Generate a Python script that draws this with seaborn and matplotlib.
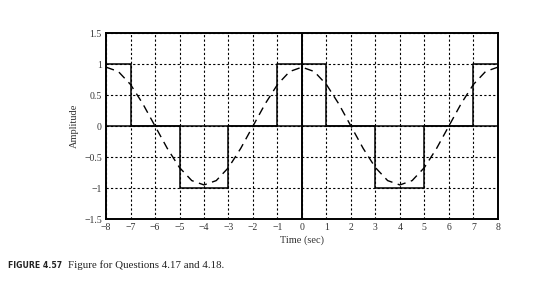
import matplotlib
matplotlib.use("Agg")
import matplotlib.pyplot as plt
import seaborn as sns
import pandas as pd

# Square wave: value on each interval (left edge, right edge)
sq_t = [-8, -7, -7, -5, -5, -3, -3, -1, -1, 1, 1, 3, 3, 5, 5, 7, 7, 8]
sq_v = [1, 1, 0, 0, -1, -1, 0, 0, 1, 1, 0, 0, -1, -1, 0, 0, 1, 1]

# Dashed approximation curve, read every 0.5 s
dash_t = [-8 + 0.5 * i for i in range(33)]
dash_v = [0.95, 0.88, 0.67, 0.36, 0.0, -0.36, -0.67, -0.88, -0.95, -0.88, -0.67, -0.36, 0.0,
          0.36, 0.67, 0.88, 0.95, 0.88, 0.67, 0.36, 0.0, -0.36, -0.67, -0.88, -0.95, -0.88,
          -0.67, -0.36, 0.0, 0.36, 0.67, 0.88, 0.95]

x_ticks = list(range(-8, 9))
y_ticks = [-1.5, -1, -0.5, 0, 0.5, 1, 1.5]
y_tick_labels = ["\u22121.5", "\u22121", "\u22120.5", "0", "0.5", "1", "1.5"]

sns.set_style("white")
plt.rcParams['font.family'] = ['Liberation Serif', 'DejaVu Serif']

fig = plt.figure(figsize=(5.33, 2.98), dpi=100)
ax = fig.add_axes([0.199, 0.265, 0.735, 0.624])

sq_df = pd.DataFrame({"t": sq_t, "v": sq_v})
dash_df = pd.DataFrame({"t": dash_t, "v": dash_v})

for x in x_ticks:
    ax.axvline(x, color="black", lw=0.8, ls=(0, (2, 2)), zorder=1)
for y in y_ticks:
    ax.axhline(y, color="black", lw=0.8, ls=(0, (2, 2)), zorder=1)
ax.axhline(0, color="black", lw=1.1, zorder=2)
ax.axvline(0, color="black", lw=1.4, zorder=2)

sns.lineplot(data=sq_df, x="t", y="v", ax=ax, color="black", lw=1.1, sort=False,
             estimator=None, zorder=3)
sns.lineplot(data=dash_df, x="t", y="v", ax=ax, color="black", lw=1.0,
             dashes=False, linestyle=(0, (6, 4)), estimator=None, zorder=3)

ax.set_xlim(-8, 8)
ax.set_ylim(-1.5, 1.5)
ax.set_xticks(x_ticks)
ax.set_xticklabels([("\u2212" + str(-v)) if v < 0 else str(v) for v in x_ticks])
ax.set_yticks(y_ticks)
ax.set_yticklabels(y_tick_labels)
ax.tick_params(axis="both", labelsize=7, length=0, pad=3, colors="#333333")
for s in ax.spines.values():
    s.set_linewidth(1.4)
    s.set_color("black")
ax.set_xlabel("Time (sec)", fontsize=7.5, labelpad=2, color="#333333")
ax.set_ylabel("Amplitude", fontsize=7.5, labelpad=4, color="#333333")

fig.text(0.015, 0.11, "FIGURE 4.57", fontsize=5.6, fontweight="bold",
         family=["DejaVu Sans"], va="center", color="#222222")
fig.text(0.128, 0.11, "Figure for Questions 4.17 and 4.18.", fontsize=7.8,
         va="center", color="#222222")

fig.savefig("out.png", dpi=100)
